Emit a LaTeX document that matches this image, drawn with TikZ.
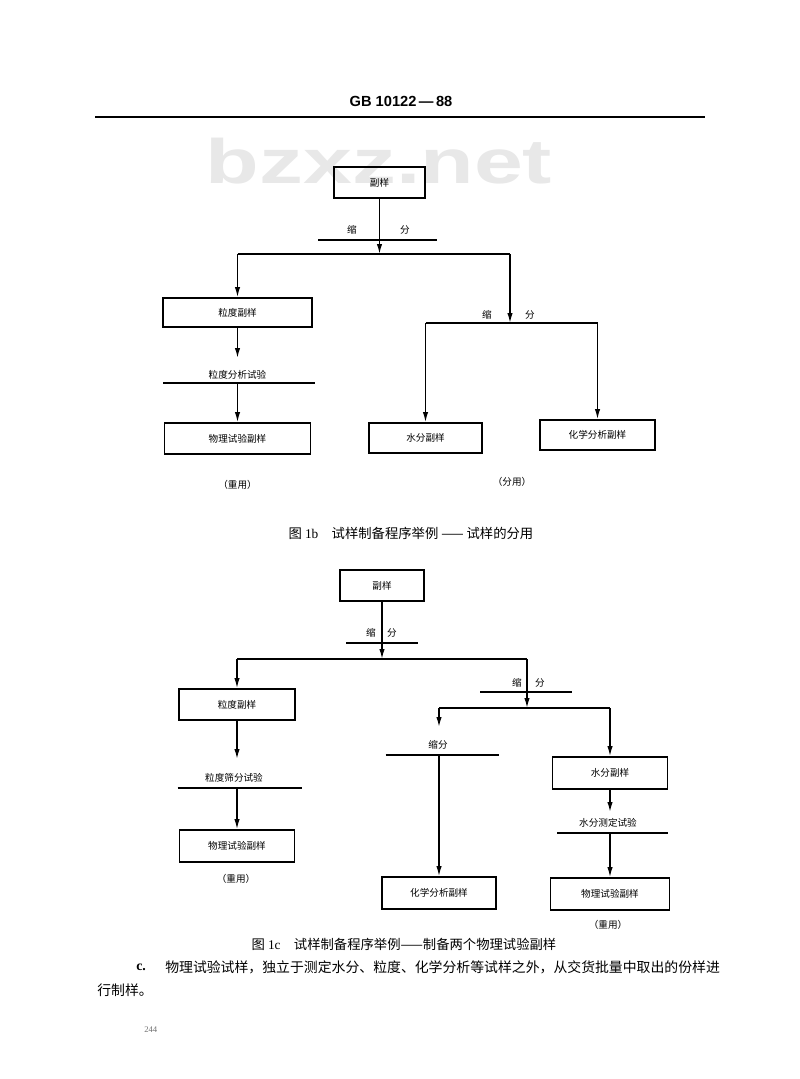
\documentclass[tikz,border=0pt]{standalone}
\usepackage{fontspec}
\usepackage{graphicx}
\setmainfont{Liberation Serif}
\newfontfamily\cjk{Noto Sans CJK SC}
\newfontfamily\hdr{Liberation Sans}
\usetikzlibrary{arrows.meta}
\begin{document}
\begin{tikzpicture}[x=0.75pt,y=-0.75pt,
  box/.style={draw, line width=1.2pt, inner sep=0pt, font=\cjk\fontsize{7.2}{8}\selectfont},
  ln/.style={line width=1pt},
  bar/.style={line width=1.1pt},
  arr/.style={line width=1pt, -{Latex[length=7.5pt,width=4pt]}},
  lbl/.style={font=\cjk\fontsize{7.2}{8}\selectfont, inner sep=0pt},
  figcap/.style={font=\cjk\fontsize{10}{12}\selectfont, inner sep=0pt},
  bodytxt/.style={font=\cjk\fontsize{10.4}{12}\selectfont, inner sep=0pt, anchor=west},
]
\useasboundingbox (0,0) rectangle (800,1079);
\fill[white] (0,0) rectangle (800,1079);

% watermark
\node[font=\hdr\bfseries\fontsize{47}{50}\selectfont, text=black!9, inner sep=0pt, anchor=base] (wm) at (379,183) {\scalebox{1.4}[1]{bzxz.net}};

% header
\node[font=\hdr\bfseries\fontsize{11}{13}\selectfont, inner sep=0pt] (hd) at (401,101) {GB 10122\,—\,88};
\coordinate (hl) at (95,117); \coordinate (hr) at (705,117);
\draw[line width=1.2pt] (hl) -- (hr);

% ===== Figure 1b =====
\node[box, minimum width={91*0.75pt}, minimum height={31*0.75pt}] (a0) at (379.5,182.5) {副样};
\coordinate (a1) at (379.5,254);
\coordinate (a1l) at (237.5,254);
\coordinate (a1r) at (510,254);
\coordinate (b1l) at (318,240); \coordinate (b1r) at (437,240);
\draw[bar] (b1l) -- (b1r);
\node[lbl] (t1) at (352,230) {缩};
\node[lbl] (t2) at (405,230) {分};
\draw[arr] (a0.south) -- (a1);
\draw[ln] (a1l) -- (a1r);

\node[box, minimum width={149*0.75pt}, minimum height={29*0.75pt}] (a2) at (237.5,312.5) {粒度副样};
\draw[arr] (a1l) -- (a2.north);
\coordinate (c1) at (237.5,358);
\draw[arr] (a2.south) -- (c1);
\node[lbl] (t3) at (237.5,375) {粒度分析试验};
\coordinate (c2l) at (163,383); \coordinate (c2r) at (315,383); \coordinate (c2) at (237.5,383);
\draw[bar] (c2l) -- (c2r);
\node[box, minimum width={146*0.75pt}, minimum height={31*0.75pt}] (a3) at (237.5,438.5) {物理试验副样};
\draw[arr] (c2) -- (a3.north);
\node[lbl] (t4) at (237.5,485) {（重用）};

\coordinate (d0) at (510,323);
\draw[arr] (a1r) -- (d0);
\node[lbl] (t5) at (487,315) {缩};
\node[lbl] (t6) at (530,315) {分};
\coordinate (d1) at (425.5,323); \coordinate (d2) at (597.5,323);
\draw[ln] (d1) -- (d2);
\node[box, minimum width={113*0.75pt}, minimum height={30*0.75pt}] (a4) at (425.5,438) {水分副样};
\draw[arr] (d1) -- (a4.north);
\node[box, minimum width={115*0.75pt}, minimum height={30*0.75pt}] (a5) at (597.5,435) {化学分析副样};
\draw[arr] (d2) -- (a5.north);
\node[lbl] (t7) at (512,482) {（分用）};

\node[figcap] (cap1) at (411,533) {图\ {\rmfamily 1b}\quad 试样制备程序举例 —— 试样的分用};

% ===== Figure 1c =====
\node[box, minimum width={84*0.75pt}, minimum height={31*0.75pt}] (e0) at (382,585.5) {副样};
\coordinate (e1) at (382,659);
\coordinate (e1l) at (237,659);
\coordinate (e1r) at (527,659);
\coordinate (m1l) at (346,643); \coordinate (m1r) at (418,643);
\draw[bar] (m1l) -- (m1r);
\node[lbl] (u1) at (371,633) {缩};
\node[lbl] (u2) at (392,633) {分};
\draw[arr] (e0.south) -- (e1);
\draw[ln] (e1l) -- (e1r);

\node[box, minimum width={116*0.75pt}, minimum height={31*0.75pt}] (e2) at (237,704.5) {粒度副样};
\draw[arr] (e1l) -- (e2.north);
\coordinate (f1) at (237,759);
\draw[arr] (e2.south) -- (f1);
\node[lbl] (u3) at (234,778) {粒度筛分试验};
\coordinate (f2l) at (177.5,788); \coordinate (f2r) at (302,788); \coordinate (f2) at (237,788);
\draw[bar] (f2l) -- (f2r);
\node[box, minimum width={115*0.75pt}, minimum height={32*0.75pt}] (e3) at (237,846) {物理试验副样};
\draw[arr] (f2) -- (e3.north);
\node[lbl] (u4) at (236,879) {（重用）};

\coordinate (g0) at (527,708);
\coordinate (m2l) at (480,692); \coordinate (m2r) at (572,692);
\draw[bar] (m2l) -- (m2r);
\node[lbl] (u5) at (517,683) {缩};
\node[lbl] (u6) at (540,683) {分};
\draw[arr] (e1r) -- (g0);
\coordinate (g1) at (439,708); \coordinate (g2) at (610,708);
\draw[ln] (g1) -- (g2);

\coordinate (h1) at (439,727);
\draw[arr] (g1) -- (h1);
\node[lbl] (u7) at (438,745) {缩分};
\coordinate (h2l) at (385.5,755); \coordinate (h2r) at (499,755); \coordinate (h2) at (439,755);
\draw[bar] (h2l) -- (h2r);
\node[box, minimum width={113.5*0.75pt}, minimum height={32*0.75pt}] (e4) at (439,893) {化学分析副样};
\draw[arr] (h2) -- (e4.north);

\node[box, minimum width={115*0.75pt}, minimum height={32*0.75pt}] (e5) at (610,773) {水分副样};
\draw[arr] (g2) -- (e5.north);
\coordinate (k1) at (610,812);
\draw[arr] (e5.south) -- (k1);
\node[lbl] (u8) at (608,823) {水分测定试验};
\coordinate (k2l) at (557,833); \coordinate (k2r) at (668,833); \coordinate (k2) at (610,833);
\draw[bar] (k2l) -- (k2r);
\node[box, minimum width={119*0.75pt}, minimum height={32*0.75pt}] (e6) at (610,894) {物理试验副样};
\draw[arr] (k2) -- (e6.north);
\node[lbl] (u9) at (608,925) {（重用）};

\node[figcap] (cap2) at (404,944) {图\ {\rmfamily 1c}\quad 试样制备程序举例——制备两个物理试验副样};

% body text
\node[font=\rmfamily\bfseries\fontsize{10.4}{12}\selectfont, inner sep=0pt, anchor=west] (cc) at (136,967) {c.};
\node[bodytxt] (p1) at (165,967) {物理试验试样，独立于测定水分、粒度、化学分析等试样之外，从交货批量中取出的份样进};
\node[bodytxt] (p2) at (97,990) {行制样。};
\node[font=\rmfamily\fontsize{6.5}{8}\selectfont, text=black!55, inner sep=0pt, anchor=west] (pg) at (144,1030) {244};
\end{tikzpicture}
\end{document}
